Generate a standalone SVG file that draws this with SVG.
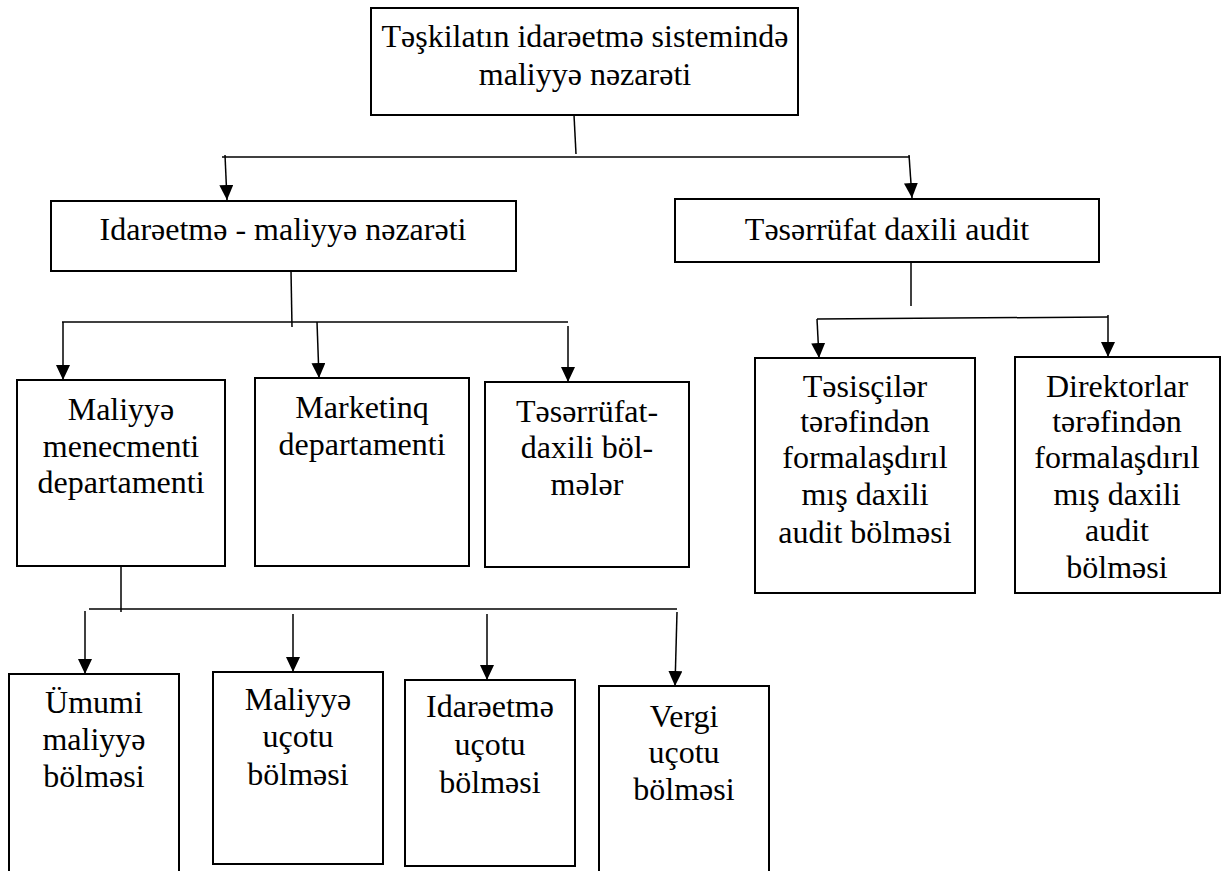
<svg xmlns="http://www.w3.org/2000/svg" width="1225" height="871" viewBox="0 0 1225 871">
<style>
  .box { fill: #ffffff; stroke: #000000; stroke-width: 2; }
  .t { font-family: "Liberation Serif", "Times New Roman", serif; font-size: 32px; fill: #000000; text-anchor: middle; }
  .c { fill: none; stroke: #000000; stroke-width: 1.5; }
  .a { fill: none; stroke: #000000; stroke-width: 1.5; marker-end: url(#arr); }
</style>
<defs>
  <marker id="arr" viewBox="0 0 15 14" markerWidth="15" markerHeight="14" refX="15" refY="7" orient="auto" markerUnits="userSpaceOnUse">
    <path d="M0,0 L15,7 L0,14 Z" fill="#000000"/>
  </marker>
</defs>
<rect width="1225" height="871" fill="#ffffff"/>

<g id="connectors">
  <path class="c" d="M574,115 L576,154"/>
  <path class="c" d="M222,157 L910,157"/>
  <path class="a" d="M225,155 L227,200"/>
  <path class="a" d="M909,155 L912,198"/>

  <path class="c" d="M291,271 L292,327"/>
  <path class="c" d="M62,322 L568,322"/>
  <path class="a" d="M63,322 L63,380"/>
  <path class="a" d="M317,322 L319,378"/>
  <path class="a" d="M568,326 L568,382"/>

  <path class="c" d="M911,262 L911,306"/>
  <path class="c" d="M817,319 L1108,317"/>
  <path class="a" d="M817,319 L819,358"/>
  <path class="a" d="M1108,315 L1108,357"/>

  <path class="c" d="M121,565 L121,612"/>
  <path class="c" d="M89,609 L677,609"/>
  <path class="a" d="M85,611 L85,674"/>
  <path class="a" d="M293,614 L293,672"/>
  <path class="a" d="M487,614 L487,680"/>
  <path class="a" d="M677,612 L675,686"/>
</g>

<g id="root">
  <rect class="box" x="371" y="8" width="427" height="107"/>
  <text class="t" x="585" y="47">Təşkilatın idarəetmə sistemində</text>
  <text class="t" x="585" y="85">maliyyə nəzarəti</text>
</g>

<g id="idareetme-maliyye-nezareti">
  <rect class="box" x="51" y="201" width="465" height="70"/>
  <text class="t" x="283" y="240">Idarəetmə - maliyyə nəzarəti</text>
</g>

<g id="teserrufat-daxili-audit">
  <rect class="box" x="675" y="199" width="424" height="63"/>
  <text class="t" x="887" y="240">Təsərrüfat daxili audit</text>
</g>

<g id="maliyye-menecmenti">
  <rect class="box" x="17" y="380" width="208" height="186"/>
  <text class="t" x="121" y="420">Maliyyə</text>
  <text class="t" x="121" y="457">menecmenti</text>
  <text class="t" x="121" y="493">departamenti</text>
</g>

<g id="marketinq">
  <rect class="box" x="255" y="378" width="214" height="188"/>
  <text class="t" x="362" y="418">Marketinq</text>
  <text class="t" x="362" y="455">departamenti</text>
</g>

<g id="teserrufat-daxili-bolmeler">
  <rect class="box" x="485" y="382" width="204" height="185"/>
  <text class="t" x="587" y="422">Təsərrüfat-</text>
  <text class="t" x="587" y="458">daxili böl-</text>
  <text class="t" x="587" y="495">mələr</text>
</g>

<g id="tesisciler">
  <rect class="box" x="755" y="358" width="220" height="235"/>
  <text class="t" x="865" y="397">Təsisçilər</text>
  <text class="t" x="865" y="432">tərəfindən</text>
  <text class="t" x="865" y="468">formalaşdırıl</text>
  <text class="t" x="865" y="505">mış daxili</text>
  <text class="t" x="865" y="543">audit bölməsi</text>
</g>

<g id="direktorlar">
  <rect class="box" x="1015" y="357" width="205" height="236"/>
  <text class="t" x="1117" y="397">Direktorlar</text>
  <text class="t" x="1117" y="432">tərəfindən</text>
  <text class="t" x="1117" y="468">formalaşdırıl</text>
  <text class="t" x="1117" y="505">mış daxili</text>
  <text class="t" x="1117" y="541">audit</text>
  <text class="t" x="1117" y="578">bölməsi</text>
</g>

<g id="umumi-maliyye">
  <rect class="box" x="9" y="674" width="170" height="210"/>
  <text class="t" x="94" y="713">Ümumi</text>
  <text class="t" x="94" y="750">maliyyə</text>
  <text class="t" x="94" y="787">bölməsi</text>
</g>

<g id="maliyye-ucotu">
  <rect class="box" x="213" y="672" width="170" height="192"/>
  <text class="t" x="298" y="710">Maliyyə</text>
  <text class="t" x="298" y="747">uçotu</text>
  <text class="t" x="298" y="785">bölməsi</text>
</g>

<g id="idareetme-ucotu">
  <rect class="box" x="405" y="680" width="170" height="186"/>
  <text class="t" x="490" y="717">Idarəetmə</text>
  <text class="t" x="490" y="755">uçotu</text>
  <text class="t" x="490" y="793">bölməsi</text>
</g>

<g id="vergi-ucotu">
  <rect class="box" x="599" y="686" width="170" height="198"/>
  <text class="t" x="684" y="727">Vergi</text>
  <text class="t" x="684" y="763">uçotu</text>
  <text class="t" x="684" y="800">bölməsi</text>
</g>
</svg>
